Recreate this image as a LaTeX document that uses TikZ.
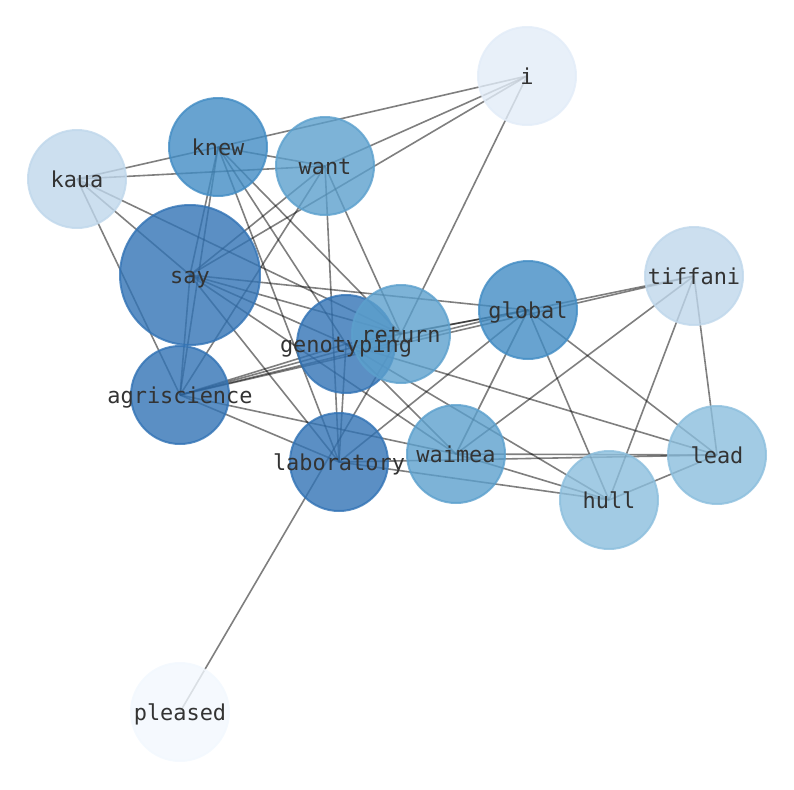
\documentclass[tikz,border=0pt]{standalone}
\usepackage{fontspec}
\setmonofont{DejaVu Sans Mono}
\usetikzlibrary{backgrounds}
% Blues shades, darkest first
\definecolor{bluea}{RGB}{50,115,181}
\definecolor{blueb}{RGB}{66,140,196}
\definecolor{bluec}{RGB}{92,160,205}
\definecolor{blued}{RGB}{139,190,221}
\definecolor{bluee}{RGB}{191,215,235}
\definecolor{bluef}{RGB}{226,236,248}
\definecolor{blueg}{RGB}{242,248,254}
\tikzset{
  vertex/.style={circle, minimum size=98bp, inner sep=0pt, line width=2bp,
    fill=#1, draw=#1, fill opacity=0.8, draw opacity=0.8},
  edge/.style={draw=black, opacity=0.5, line width=1.6bp},
  word/.style={font=\ttfamily\fontsize{22}{26}\selectfont, text=black!80, inner sep=0pt,
    text height=16.7bp, text depth=5.1bp, yshift=-2.5bp}
}
\begin{document}
\begin{tikzpicture}[x=1bp, y=-1bp, line join=round, line cap=round]
\useasboundingbox (0,0) rectangle (794,790);
% vertices
\node[vertex=bluef] (i) at (527,76) {};
\node[vertex=blueb] (knew) at (218,147) {};
\node[vertex=bluec] (want) at (325,166) {};
\node[vertex=bluee] (kaua) at (77,179) {};
\node[vertex=bluea, minimum size=140bp] (say) at (190,275) {};
\node[vertex=bluee] (tiffani) at (694,276) {};
\node[vertex=blueb] (global) at (528,310) {};
\node[vertex=bluea] (genotyping) at (346,344) {};
\node[vertex=bluec] (return) at (401,334) {};
\node[vertex=bluea] (agriscience) at (180,395) {};
\node[vertex=bluea] (laboratory) at (339,462) {};
\node[vertex=bluec] (waimea) at (456,454) {};
\node[vertex=blued] (lead) at (717,455) {};
\node[vertex=blued] (hull) at (609,500) {};
\node[vertex=blueg] (pleased) at (180,712) {};
% edges, under the vertices
\begin{scope}[on background layer]
\foreach \a/\b in {kaua/knew, kaua/want, kaua/say, kaua/agriscience, kaua/return,
    knew/want, knew/i, knew/say, knew/agriscience, knew/laboratory, knew/genotyping, knew/return,
    want/i, want/say, want/agriscience, want/laboratory, want/return,
    i/say, i/return,
    say/agriscience, say/laboratory, say/global, say/return, say/genotyping, say/waimea,
    agriscience/genotyping, agriscience/return, agriscience/global, agriscience/tiffani,
    agriscience/laboratory, agriscience/waimea,
    genotyping/global, genotyping/lead, genotyping/hull, genotyping/waimea, genotyping/laboratory,
    global/tiffani, global/return, global/waimea, global/laboratory, global/hull, global/lead,
    tiffani/waimea, tiffani/hull, tiffani/lead,
    laboratory/lead, laboratory/hull, waimea/lead, waimea/hull, hull/lead, pleased/return}
  \draw[edge] (\a.center) -- (\b.center);
\end{scope}
% labels on top
\foreach \n in {i, knew, want, kaua, say, tiffani, global, genotyping, return,
    agriscience, laboratory, waimea, lead, hull, pleased}
  \node[word] (\n-w) at (\n) {\n};
\end{tikzpicture}
\end{document}
